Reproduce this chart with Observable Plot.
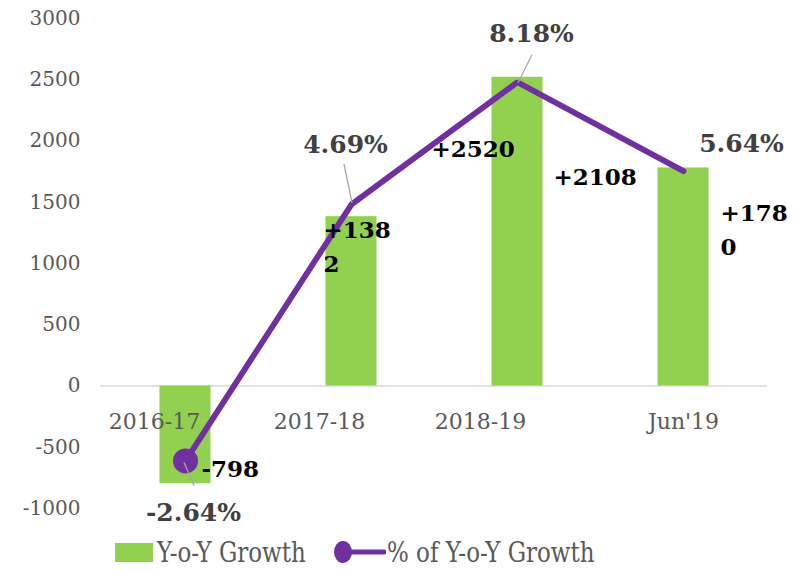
<!DOCTYPE html>
<html>
<head>
<meta charset="utf-8">
<script src="https://cdn.jsdelivr.net/npm/d3@7"></script>
<script src="https://cdn.jsdelivr.net/npm/@observablehq/plot@0.6"></script>
<style>
  body { margin: 0; background: #fff; font-family: "DejaVu Serif", serif; }
  #chart { width: 806px; height: 532px; }
  #legend { position: relative; width: 806px; height: 38px; font-family: "DejaVu Serif", serif; font-size: 28px; color: #595959; }
  #legend .item { position: absolute; top: 1px; height: 38px; display: flex; align-items: center; white-space: nowrap; }
  #legend .sw { display: inline-block; width: 38px; height: 19px; background: #92D050; margin-right: 4px; }
  #legend .txt { display: inline-block; transform: scaleX(0.82); transform-origin: left center; }
</style>
</head>
<body>
<div id="chart"></div>
<div id="legend"></div>
<script>
// ---- data ----
const categories = ["2016-17", "2017-18", "2018-19", "Jun'19"];
const growth = [-798, 1382, 2520, 1780];
const growthPct = [-2.64, 4.69, 8.18, 5.64];
const barLabels = ["-798", "+138\n2", "+2520", "+178\n0"];
const pctLabels = ["-2.64%", "4.69%", "8.18%", "5.64%"];
const extraLabelText = "+2108";
const extraLabelCategory = "2018-19";
const yTicks = [-1000, -500, 0, 500, 1000, 1500, 2000, 2500, 3000];
const primaryDomain = [-1000, 3000];
const secondaryDomain = [-4, 10];
const seriesNames = ["Y-o-Y Growth", "% of Y-o-Y Growth"];

// ---- colours ----
const green = "#92D050";
const purple = "#7030A0";
const labelGray = "#404040";
const axisGray = "#595959";

// secondary axis (percent) mapped onto primary axis units
const secondary = d3.scaleLinear().domain(secondaryDomain).range(primaryDomain);

const data = categories.map((c, i) => ({
  cat: c,
  growth: growth[i],
  pct: growthPct[i],
  pctY: secondary(growthPct[i]),
  barLabel: barLabels[i],
  pctLabel: pctLabels[i]
}));

const serif = "DejaVu Serif";

// per-label placement (pixel offsets from anchor)
const pctLabelStyle = [
  {dx: 8, dy: 52}, {dx: -6, dy: -59}, {dx: 14, dy: -48}, {dx: 58, dy: -27}
];
const barLabelStyle = [
  {dx: 16, dy: -18},
  {dx: -28, dy: 27},
  {dx: -86, dy: 69},
  {dx: 37, dy: 59}
];
const catLabelDx = [-31, -32, -37, 0];
const leaderStyle = [
  [[-1, 2], [9, 25]],
  [[1, -1], [-7, -40]],
  [[1, 1], [15, -27]],
  null
];

function leaderMark(...args) {
  const scales = args.find(a => a && typeof a.x === "function" && typeof a.y === "function");
  const g = d3.create("svg:g");
  if (!scales) return g.node();
  const sx = scales.x, sy = scales.y;
  const bw = typeof sx.bandwidth === "function" ? sx.bandwidth() : (sx.bandwidth || 0);
  data.forEach((d, i) => {
    const seg = leaderStyle[i];
    if (!seg) return;
    const px = sx(d.cat) + bw / 2, py = sy(d.pctY);
    g.append("line")
      .attr("x1", px + seg[0][0]).attr("y1", py + seg[0][1])
      .attr("x2", px + seg[1][0]).attr("y2", py + seg[1][1])
      .attr("stroke", "#a6a6a6").attr("stroke-width", 1.3);
  });
  return g.node();
}

const marks = [
  Plot.ruleY([0], {stroke: "#d9d9d9", strokeWidth: 1.5}),
  Plot.barY(data, {x: "cat", y: "growth", fill: green, insetLeft: 57.5, insetRight: 57.5}),
  Plot.line(data, {x: "cat", y: "pctY", stroke: purple, strokeWidth: 5.8, strokeLinejoin: "miter", strokeLinecap: "round"}),
  Plot.dot(data.slice(0, 1), {x: "cat", y: "pctY", r: 12.5, fill: purple, stroke: "none"}),
  leaderMark
];

// category labels
data.forEach((d, i) => {
  marks.push(Plot.text([d], {x: "cat", y: () => 0, text: "cat", dx: catLabelDx[i], dy: 36,
    fontSize: 22, fontFamily: serif, fill: axisGray}));
});

// percentage labels
data.forEach((d, i) => {
  const s = pctLabelStyle[i];
  marks.push(Plot.text([d], {x: "cat", y: "pctY", text: "pctLabel", dx: s.dx, dy: s.dy,
    fontSize: 25, fontWeight: "bold", fontFamily: serif, fill: labelGray}));
});

// bar value labels
data.forEach((d, i) => {
  const s = barLabelStyle[i];
  marks.push(Plot.text([d], {x: "cat", y: "growth", text: "barLabel", dx: s.dx, dy: s.dy,
    textAnchor: "start", lineAnchor: "middle", lineHeight: 1.48,
    fontSize: 23, fontWeight: "bold", fontFamily: serif, fill: "#000"}));
});

// floating extra label
marks.push(Plot.text(data.filter(d => d.cat === extraLabelCategory), {
  x: "cat", y: "growth", text: () => extraLabelText, dx: 36, dy: 100,
  textAnchor: "start", fontSize: 23, fontWeight: "bold", fontFamily: serif, fill: "#000"}));

const chart = Plot.plot({
  width: 806,
  height: 532,
  marginTop: 18,
  marginBottom: 24,
  marginLeft: 100,
  marginRight: 39,
  style: {fontFamily: serif, fontSize: "20px", color: axisGray, background: "#fff", overflow: "visible"},
  x: {domain: categories, padding: 0, axis: null},
  y: {domain: primaryDomain, ticks: yTicks, tickFormat: d => String(d), tickSize: 0, tickPadding: 20, label: null, line: false},
  marks
});
document.getElementById("chart").appendChild(chart);

// legend
const legend = d3.select("#legend");
const item1 = legend.append("div").attr("class", "item").style("left", "115px");
item1.append("span").attr("class", "sw");
item1.append("span").attr("class", "txt").text(seriesNames[0]);
const item2 = legend.append("div").attr("class", "item").style("left", "332px");
const svgL = item2.append("svg").attr("width", 54).attr("height", 24).style("margin-right", "1px");
svgL.append("line").attr("x1", 11).attr("x2", 52).attr("y1", 12).attr("y2", 12)
  .attr("stroke", purple).attr("stroke-width", 5).attr("stroke-linecap", "round");
svgL.append("ellipse").attr("cx", 11).attr("cy", 12).attr("rx", 9).attr("ry", 11).attr("fill", purple);
item2.append("span").attr("class", "txt").text(seriesNames[1]);
</script>
</body>
</html>
